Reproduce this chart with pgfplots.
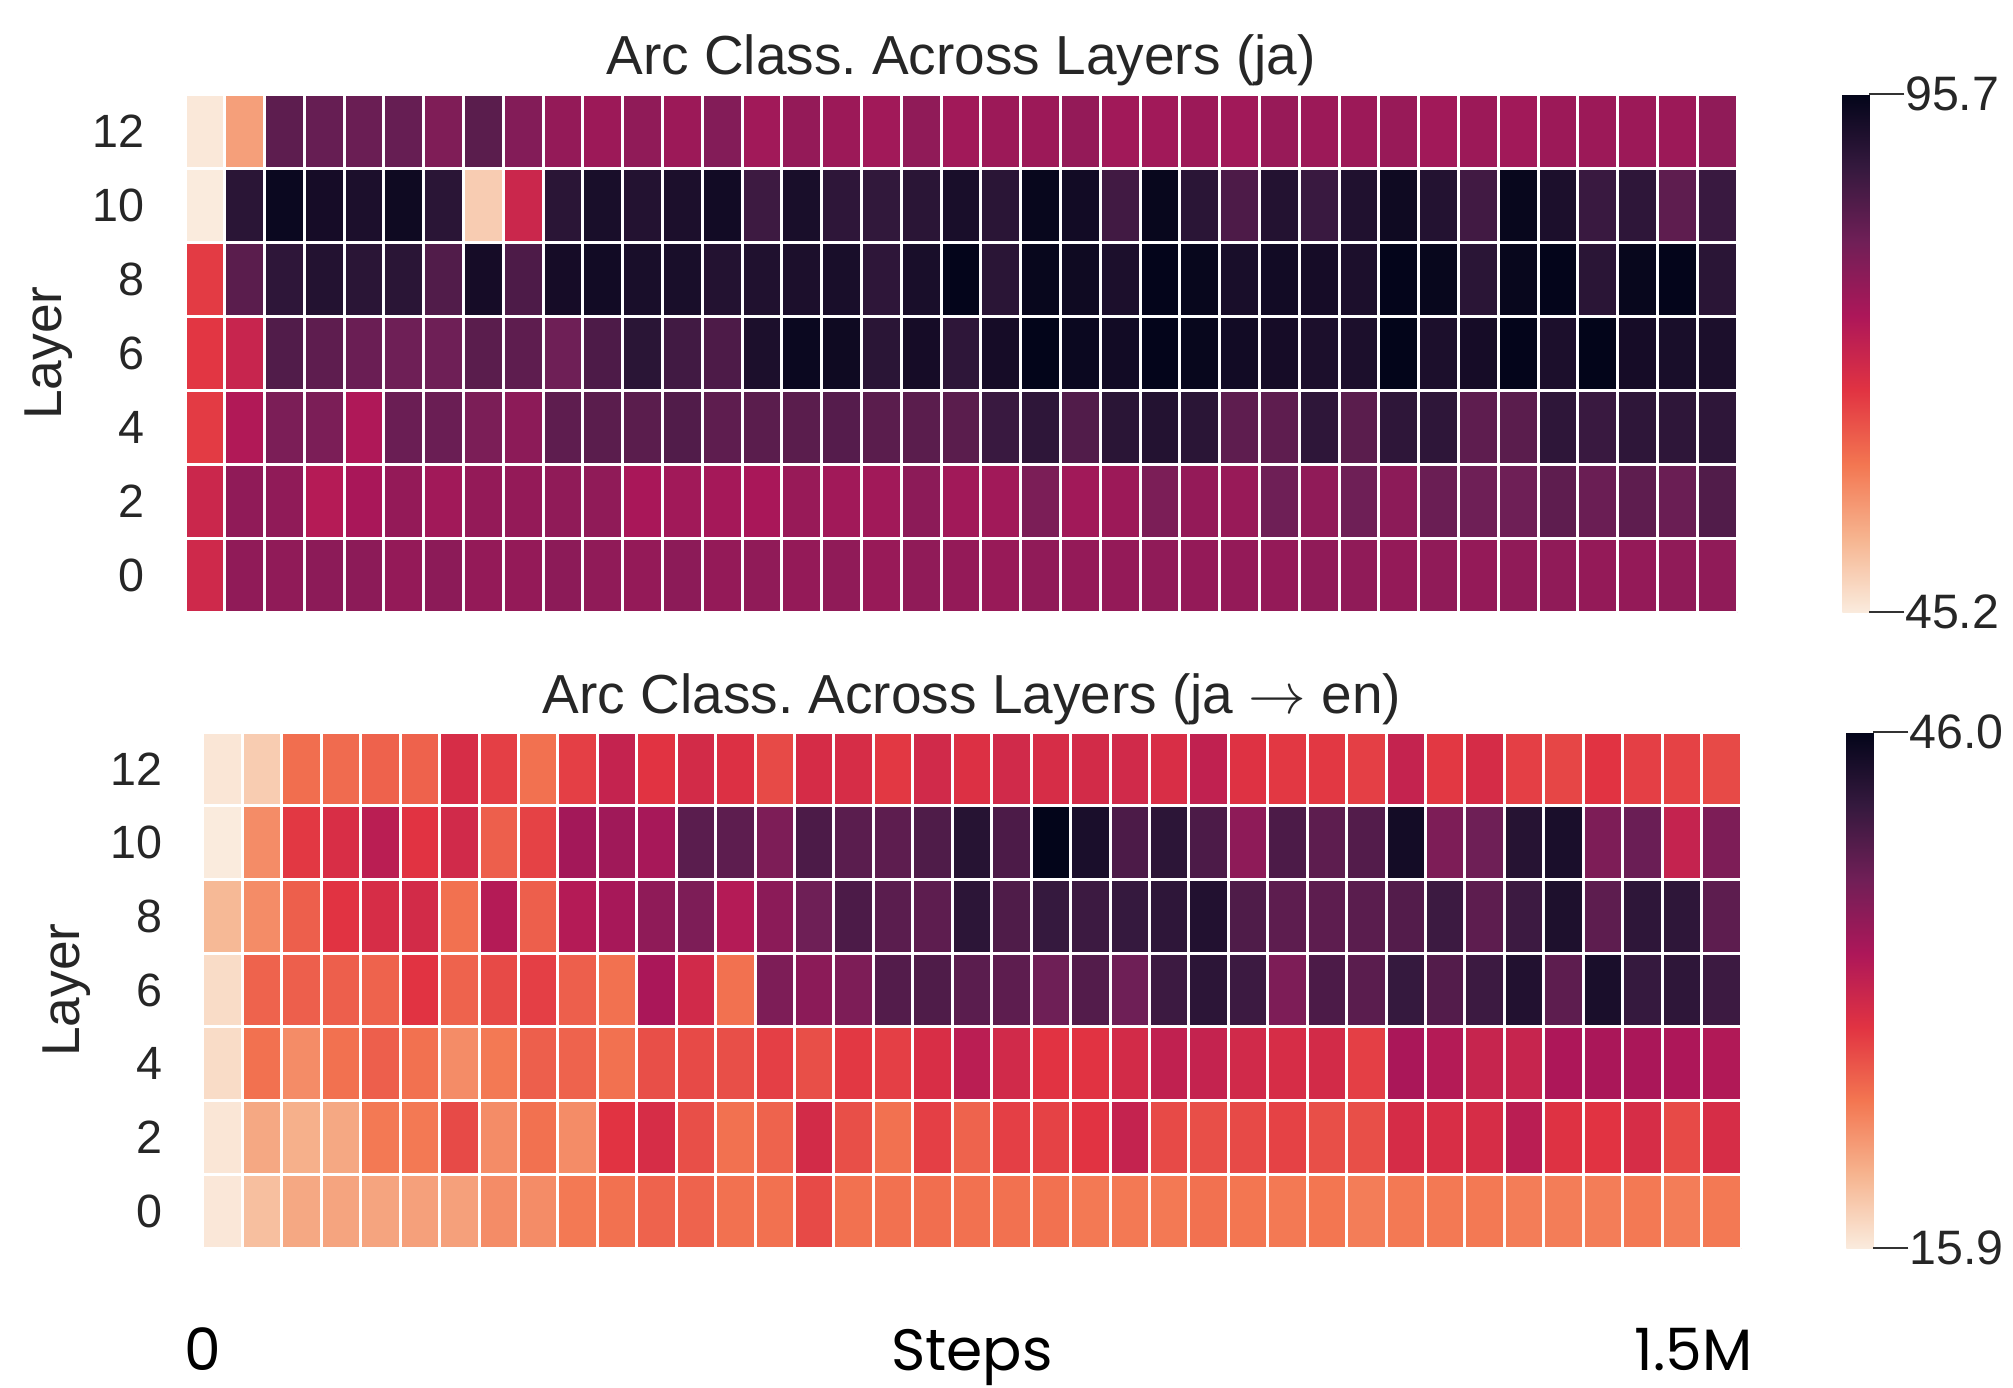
\documentclass[border=0pt]{standalone}
\usepackage{pgfplots}
\pgfplotsset{compat=1.18}
\usepackage{fontspec}
\setmainfont{Liberation Sans}
\newfontfamily\stepsfont{Poppins}
\frenchspacing

% reversed "rocket" colormap: light for low values, dark for high values
\pgfplotsset{
  colormap={rocketr}{
    rgb255=(250,235,221) rgb255=(246,180,143) rgb255=(243,118,81)
    rgb255=(225,51,66) rgb255=(173,23,89) rgb255=(112,31,87)
    rgb255=(53,25,62) rgb255=(3,5,26)},
  heat/.style={
    scale only axis,
    anchor=north west,
    colormap name=rocketr,
    enlargelimits=false,
    xmin=-0.5, xmax=38.5, ymin=-1, ymax=13,
    xtick={-0.5,0.5,...,38.5},
    xticklabels={},
    ytick={0,2,...,12},
    yticklabels={0,2,4,6,8,10,12},
    major tick length=0pt,
    minor ytick={-1,1,...,13},
    minor tick length=0pt,
    xmajorgrids=true, ymajorgrids=false, yminorgrids=true,
    major grid style={white, line width=0.9pt},
    minor grid style={white, line width=0.9pt},
    axis on top,
    axis line style={draw=none},
    tick label style={font=\fontsize{14}{16}\selectfont, text=black!85},
    yticklabel style={xshift=-8.5pt},
    ylabel={Layer},
    ylabel style={font=\fontsize{16}{19}\selectfont, text=black!85, anchor=center},
    title style={font=\fontsize{16.5}{19}\selectfont, text=black!85, at={(0.5,1)}, anchor=base},
    colorbar,
    colorbar style={
      at={(parent axis.north east)}, anchor=north west, xshift=23.1pt,
      scale only axis, width=8.1pt, height=155.4pt,
      axis line style={draw=none},
      ytick pos=right, yticklabel pos=right,
      tick align=outside,
      major tick length=10.5pt,
      ytick style={draw=black!80, line width=0.8pt},
      yticklabel style={font=\fontsize{14.5}{17}\selectfont, text=black!85, xshift=-3.3pt},
    },
  },
}

\begin{document}
\begin{tikzpicture}
\path[use as bounding box] (0,0) rectangle (603.9pt,-416.1pt);

% ---------------- ja ----------------
\begin{axis}[heat,
  at={(55.5pt,-28.2pt)}, width=465.6pt, height=155.4pt,
  point meta min=45.2, point meta max=95.7,
  title={Arc Class. Across Layers (ja)},
  ylabel style={at={(axis description cs:-0.0876,0.5)}},
  colorbar style={ytick={45.2,95.7}, yticklabels={45.2,95.7}},
]
\addplot[matrix plot*, mesh/cols=39, point meta=explicit] coordinates {
(0,0)[69.5] (1,0)[77.5] (2,0)[77.5] (3,0)[78] (4,0)[78] (5,0)[77] (6,0)[78] (7,0)[77] (8,0)[77] (9,0)[78] (10,0)[77.5] (11,0)[77] (12,0)[78]
(13,0)[77] (14,0)[77.5] (15,0)[77] (16,0)[77.5] (17,0)[76.5] (18,0)[77.5] (19,0)[77] (20,0)[76.5] (21,0)[77.5] (22,0)[77] (23,0)[77] (24,0)[77.5] (25,0)[77]
(26,0)[77] (27,0)[77] (28,0)[77.5] (29,0)[77.5] (30,0)[77] (31,0)[77.5] (32,0)[77] (33,0)[77.5] (34,0)[77.5] (35,0)[77] (36,0)[77] (37,0)[77.5] (38,0)[77.5]

(0,2)[70] (1,2)[77.5] (2,2)[77.5] (3,2)[73] (4,2)[74.5] (5,2)[77] (6,2)[75.5] (7,2)[77] (8,2)[77] (9,2)[77.5] (10,2)[77.5] (11,2)[74.5] (12,2)[75.5]
(13,2)[75] (14,2)[74.5] (15,2)[76.5] (16,2)[75.5] (17,2)[75.5] (18,2)[78] (19,2)[75.5] (20,2)[75.5] (21,2)[80] (22,2)[75.5] (23,2)[76] (24,2)[80] (25,2)[77]
(26,2)[76.5] (27,2)[81.5] (28,2)[77.5] (29,2)[81.5] (30,2)[78] (31,2)[82] (32,2)[81.5] (33,2)[81.5] (34,2)[83.5] (35,2)[82] (36,2)[83.5] (37,2)[82] (38,2)[85]

(0,4)[66] (1,4)[73.5] (2,4)[80] (3,4)[80] (4,4)[73.8] (5,4)[82] (6,4)[82] (7,4)[80] (8,4)[78] (9,4)[83.5] (10,4)[84] (11,4)[84] (12,4)[85]
(13,4)[83.5] (14,4)[84] (15,4)[84] (16,4)[84.5] (17,4)[84] (18,4)[84] (19,4)[84] (20,4)[88] (21,4)[89.5] (22,4)[85] (23,4)[90] (24,4)[91] (25,4)[90]
(26,4)[83.5] (27,4)[83.5] (28,4)[89.5] (29,4)[84] (30,4)[89.5] (31,4)[89.5] (32,4)[83.5] (33,4)[84] (34,4)[89.5] (35,4)[88] (36,4)[89.5] (37,4)[89.5] (38,4)[89.5]

(0,6)[66.5] (1,6)[70.5] (2,6)[85] (3,6)[83.5] (4,6)[82] (5,6)[81.5] (6,6)[81.5] (7,6)[84] (8,6)[83.5] (9,6)[81.5] (10,6)[85.5] (11,6)[90] (12,6)[87]
(13,6)[85.5] (14,6)[92] (15,6)[94.5] (16,6)[94] (17,6)[90] (18,6)[93] (19,6)[89.5] (20,6)[93] (21,6)[95.7] (22,6)[94.5] (23,6)[93.5] (24,6)[95.5] (25,6)[95]
(26,6)[93.5] (27,6)[93] (28,6)[92] (29,6)[92] (30,6)[95.7] (31,6)[92] (32,6)[93] (33,6)[95.5] (34,6)[92] (35,6)[95.7] (36,6)[93] (37,6)[92.5] (38,6)[92]

(0,8)[66] (1,8)[84] (2,8)[89.5] (3,8)[91] (4,8)[90] (5,8)[90] (6,8)[85] (7,8)[93] (8,8)[85.5] (9,8)[93] (10,8)[93.5] (11,8)[92.5] (12,8)[92.5]
(13,8)[91] (14,8)[91.5] (15,8)[92] (16,8)[92.5] (17,8)[89.5] (18,8)[92.5] (19,8)[95.5] (20,8)[90] (21,8)[95] (22,8)[94] (23,8)[92] (24,8)[95.5] (25,8)[95]
(26,8)[92.5] (27,8)[93.5] (28,8)[93] (29,8)[92] (30,8)[95.5] (31,8)[95] (32,8)[90] (33,8)[95] (34,8)[95.5] (35,8)[90] (36,8)[95] (37,8)[95.5] (38,8)[90]

(0,10)[45.2] (1,10)[90] (2,10)[94.5] (3,10)[93] (4,10)[92] (5,10)[94] (6,10)[90] (7,10)[49.2] (8,10)[70] (9,10)[90] (10,10)[92.5] (11,10)[91] (12,10)[92]
(13,10)[93.5] (14,10)[87.5] (15,10)[92.5] (16,10)[89.5] (17,10)[89] (18,10)[90] (19,10)[92.5] (20,10)[90] (21,10)[95] (22,10)[93.5] (23,10)[87] (24,10)[95] (25,10)[90]
(26,10)[85.5] (27,10)[91] (28,10)[88] (29,10)[91.5] (30,10)[94] (31,10)[91] (32,10)[87] (33,10)[95] (34,10)[92] (35,10)[88] (36,10)[89.5] (37,10)[83.5] (38,10)[88]

(0,12)[45.6] (1,12)[54.8] (2,12)[83.6] (3,12)[82.5] (4,12)[82] (5,12)[82.5] (6,12)[79.5] (7,12)[84] (8,12)[79] (9,12)[77] (10,12)[76] (11,12)[77.5] (12,12)[76]
(13,12)[79] (14,12)[75.5] (15,12)[77] (16,12)[76] (17,12)[75.5] (18,12)[77.5] (19,12)[75.5] (20,12)[76] (21,12)[76] (22,12)[77] (23,12)[75.5] (24,12)[75.5] (25,12)[76]
(26,12)[75.5] (27,12)[76.5] (28,12)[76] (29,12)[76] (30,12)[76.5] (31,12)[75.5] (32,12)[76] (33,12)[75.5] (34,12)[76] (35,12)[76] (36,12)[76] (37,12)[76] (38,12)[77.5]
};
\end{axis}

% ---------------- ja -> en ----------------
\begin{axis}[heat,
  at={(60.9pt,-219.6pt)}, width=461.4pt, height=154.8pt,
  point meta min=15.9, point meta max=46.0,
  title={Arc Class. Across Layers (ja $\rightarrow$ en)},
  title style={yshift=-0.4pt},
  ylabel style={at={(axis description cs:-0.0884,0.5)}},
  colorbar style={height=154.8pt, ytick={15.9,46.0}, yticklabels={15.9,46.0}},
]
\addplot[matrix plot*, mesh/cols=39, point meta=explicit] coordinates {
(0,0)[16.2] (1,0)[19.3] (2,0)[21] (3,0)[21.3] (4,0)[21.3] (5,0)[21.6] (6,0)[21.6] (7,0)[23] (8,0)[23] (9,0)[24.3] (10,0)[24.8] (11,0)[25.7] (12,0)[25.7]
(13,0)[24.8] (14,0)[24.8] (15,0)[27.3] (16,0)[24.8] (17,0)[24.8] (18,0)[25] (19,0)[24.8] (20,0)[24.8] (21,0)[24.8] (22,0)[24.3] (23,0)[24.3] (24,0)[24.3] (25,0)[24.8]
(26,0)[24.5] (27,0)[24.3] (28,0)[24.5] (29,0)[24] (30,0)[24.3] (31,0)[24.3] (32,0)[24.3] (33,0)[24] (34,0)[24] (35,0)[24] (36,0)[24.3] (37,0)[24] (38,0)[24.3]

(0,2)[16.3] (1,2)[21] (2,2)[20.5] (3,2)[21] (4,2)[24.3] (5,2)[24.3] (6,2)[27.3] (7,2)[23] (8,2)[24.8] (9,2)[23] (10,2)[28.8] (11,2)[29.7] (12,2)[27]
(13,2)[24.8] (14,2)[25.7] (15,2)[30] (16,2)[27] (17,2)[24.8] (18,2)[28] (19,2)[25.7] (20,2)[28] (21,2)[27.8] (22,2)[28.8] (23,2)[31.2] (24,2)[27.3] (25,2)[27]
(26,2)[27.3] (27,2)[27.8] (28,2)[27] (29,2)[27] (30,2)[29.8] (31,2)[29.5] (32,2)[29.7] (33,2)[32] (34,2)[29] (35,2)[28.8] (36,2)[29.7] (37,2)[27.3] (38,2)[29.7]

(0,4)[17.1] (1,4)[24.8] (2,4)[23] (3,4)[24.8] (4,4)[26] (5,4)[24.8] (6,4)[23] (7,4)[24.3] (8,4)[26] (9,4)[25.7] (10,4)[24.8] (11,4)[27] (12,4)[27.3]
(13,4)[27] (14,4)[28] (15,4)[27] (16,4)[28.5] (17,4)[28] (18,4)[29.5] (19,4)[32] (20,4)[30.2] (21,4)[28.8] (22,4)[28.8] (23,4)[30] (24,4)[31.5] (25,4)[31.2]
(26,4)[30.2] (27,4)[29.7] (28,4)[30] (29,4)[28] (30,4)[33.3] (31,4)[32.5] (32,4)[31] (33,4)[31] (34,4)[33.1] (35,4)[33.3] (36,4)[33.3] (37,4)[33.1] (38,4)[32.8]

(0,6)[17.1] (1,6)[25.7] (2,6)[26] (3,6)[26] (4,6)[25.7] (5,6)[28.8] (6,6)[25.7] (7,6)[27.3] (8,6)[28] (9,6)[26] (10,6)[24.8] (11,6)[33.3] (12,6)[30.2]
(13,6)[24.8] (14,6)[36.5] (15,6)[35.5] (16,6)[36.5] (17,6)[39.5] (18,6)[39.8] (19,6)[39] (20,6)[38.8] (21,6)[37.5] (22,6)[39.5] (23,6)[37.5] (24,6)[41.2] (25,6)[42.5]
(26,6)[41.2] (27,6)[36.5] (28,6)[40] (29,6)[39] (30,6)[41.7] (31,6)[39.5] (32,6)[41.2] (33,6)[43.3] (34,6)[38.8] (35,6)[44] (36,6)[41.7] (37,6)[42.3] (38,6)[41.2]

(0,8)[19.8] (1,8)[23] (2,8)[26] (3,8)[28.8] (4,8)[29.7] (5,8)[30] (6,8)[24.8] (7,8)[32.5] (8,8)[26] (9,8)[32.5] (10,8)[33.5] (11,8)[35.2] (12,8)[36.5]
(13,8)[32.5] (14,8)[35.5] (15,8)[37.5] (16,8)[40] (17,8)[39] (18,8)[38.8] (19,8)[42.5] (20,8)[39.8] (21,8)[41.7] (22,8)[41.2] (23,8)[41.7] (24,8)[42.3] (25,8)[43.3]
(26,8)[39.8] (27,8)[38.8] (28,8)[38.8] (29,8)[39] (30,8)[39.5] (31,8)[41.2] (32,8)[38.8] (33,8)[41.2] (34,8)[43.7] (35,8)[38.8] (36,8)[42.3] (37,8)[42.3] (38,8)[38.8]

(0,10)[15.9] (1,10)[23] (2,10)[28.5] (3,10)[29.5] (4,10)[32] (5,10)[28.8] (6,10)[30.2] (7,10)[26] (8,10)[27.8] (9,10)[33.8] (10,10)[34] (11,10)[33.5] (12,10)[39]
(13,10)[38.8] (14,10)[36.5] (15,10)[40] (16,10)[39] (17,10)[38.8] (18,10)[39.8] (19,10)[43] (20,10)[40] (21,10)[46] (22,10)[44] (23,10)[40] (24,10)[42.5] (25,10)[40]
(26,10)[35.3] (27,10)[40] (28,10)[38.8] (29,10)[39.5] (30,10)[44.5] (31,10)[36.5] (32,10)[37.5] (33,10)[43] (34,10)[44] (35,10)[36.5] (36,10)[37.8] (37,10)[31.2] (38,10)[36.5]

(0,12)[16.3] (1,12)[18.3] (2,12)[25] (3,12)[25.2] (4,12)[25.8] (5,12)[25.8] (6,12)[29.7] (7,12)[28] (8,12)[24.8] (9,12)[28] (10,12)[31.2] (11,12)[28.8] (12,12)[30]
(13,12)[29.2] (14,12)[27.3] (15,12)[29.8] (16,12)[29.7] (17,12)[28.5] (18,12)[30.2] (19,12)[29.2] (20,12)[30.2] (21,12)[29.7] (22,12)[30] (23,12)[30.2] (24,12)[29.5] (25,12)[31.5]
(26,12)[29] (27,12)[28.5] (28,12)[28.5] (29,12)[28] (30,12)[31.2] (31,12)[28.5] (32,12)[29.8] (33,12)[28] (34,12)[27.6] (35,12)[28.8] (36,12)[28] (37,12)[27.8] (38,12)[27.3]
};
\end{axis}

% shared step axis labels
\begin{scope}[every node/.style={font=\stepsfont\fontsize{17.5}{20}\selectfont, text=black}]
\node[anchor=base] at (60.9pt,-411.2pt) {0};
\node[anchor=base] at (291.6pt,-411.2pt) {Steps};
\node[anchor=base east] at (529.2pt,-411.2pt) {1.5M};
\end{scope}
\end{tikzpicture}
\end{document}
